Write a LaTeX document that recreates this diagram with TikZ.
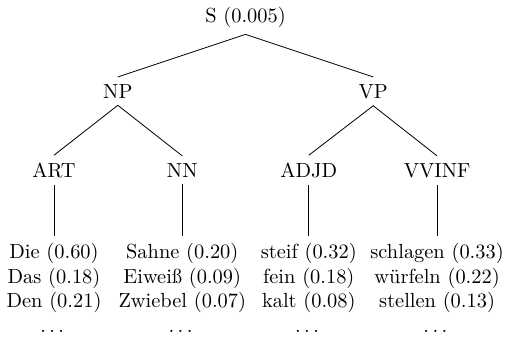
\documentclass[tikz,border=0pt]{standalone}
\usepackage{amsmath,amssymb,amsfonts}
\usepackage{tikz}

\begin{document}
\begin{tikzpicture}[tag_node/.style={anchor=base}, word_node/.style={align=center, anchor=north}]
    \useasboundingbox (-4.23,-5.48) rectangle (4.47,0.38);

	\node[tag_node] (1) at (0, 0) {S (0.005)};
    \node[tag_node] (2) at (-2.20, -1.31) {NP};
    \node[tag_node] (3) at (2.20, -1.31) {VP};
    \node[tag_node] (4) at (-3.30, -2.67) {ART};
    \node[tag_node] (5) at (-1.09, -2.67) {NN};
    \node[tag_node] (6) at (1.09, -2.67) {ADJD};
    \node[tag_node] (7) at (3.30, -2.67) {VVINF};

    \node[word_node] (8) at (-3.30, -3.69) {Die (0.60)\\Das (0.18)\\Den (0.21)\\$\dots$};
    \node[word_node] (9) at (-1.09, -3.69) {Sahne (0.20)\\Eiwei\ss{} (0.09)\\Zwiebel (0.07)\\$\dots$};
    \node[word_node] (10) at (1.09, -3.69) {steif (0.32)\\fein (0.18)\\kalt (0.08)\\$\dots$};
    \node[word_node] (11) at (3.30, -3.69) {schlagen (0.33)\\w\"urfeln (0.22)\\stellen (0.13)\\$\dots$};

    \draw (2.north) -- (1.south) -- (3.north);
    \draw (4.north) -- (2.south) -- (5.north);
    \draw (6.north) -- (3.south) -- (7.north);
    \draw (4) -- (8);
    \draw (5) -- (9);
    \draw (6) -- (10);
    \draw (7) -- (11);

\end{tikzpicture}
\end{document}
